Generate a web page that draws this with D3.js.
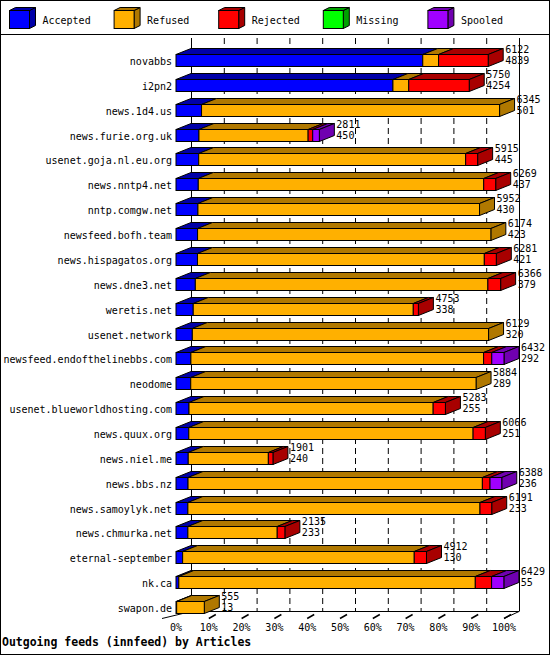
<!DOCTYPE html><html><head><meta charset="utf-8">
<script src="https://cdn.jsdelivr.net/npm/d3@7"></script>
<style>body{margin:0;background:#fff}text{font-family:"DejaVu Sans Mono",monospace;font-size:10px}</style></head>
<body><svg id="c" width="550" height="655"></svg>
<script>
const hosts=["novabbs","i2pn2","news.1d4.us","news.furie.org.uk","usenet.goja.nl.eu.org","news.nntp4.net","nntp.comgw.net","newsfeed.bofh.team","news.hispagatos.org","news.dne3.net","weretis.net","usenet.network","newsfeed.endofthelinebbs.com","neodome","usenet.blueworldhosting.com","news.quux.org","news.niel.me","news.bbs.nz","news.samoylyk.net","news.chmurka.net","eternal-september","nk.ca","swapon.de"];
const offered=[6122,5750,6345,2811,5915,6269,5952,6174,6281,6366,4753,6129,6432,5884,5283,6066,1901,6388,6191,2135,4912,6429,555];
const accepted=[4839,4254,501,450,445,437,430,423,421,379,338,320,292,289,255,251,240,236,233,233,130,55,13];
const refused=[310,310,5844,2141,5235,5597,5522,5751,5625,5737,4315,5809,5740,5595,4788,5575,1571,5772,5728,1752,4542,5814,542];
const rejected=[973,1186,0,90,235,235,0,0,235,250,100,0,160,0,240,240,90,150,230,150,240,320,0];
const missing=[0,0,0,0,0,0,0,0,0,0,0,0,0,0,0,0,0,0,0,0,0,0,0];
const spooled=[0,0,0,130,0,0,0,0,0,0,0,0,240,0,0,0,0,230,0,0,0,240,0];
const seriesNames=["Accepted","Refused","Rejected","Missing","Spooled"];
const front=["#0000ff","#ffb000","#ff0000","#00ff00","#a000ff"];
const side=["#0000a8","#b07800","#a80000","#00a000","#7000b0"];
const tickLabels=["0%","10%","20%","30%","40%","50%","60%","70%","80%","90%","100%"];

const svg=d3.select("#c");
const DX=15,DY=6,BH=12;
const max=d3.max(offered);
const x=d3.scaleLinear().domain([0,max]).range([176,504]);
const xp=d3.scaleLinear().domain([0,100]).range([176,504]);
const y=d3.scaleBand().domain(hosts).range([48,620]).paddingInner(0.48).paddingOuter(0.24);

svg.append("rect").attr("x",0.5).attr("y",0.5).attr("width",549).attr("height",654).attr("fill","none").attr("stroke","#000");
svg.append("line").attr("x1",0).attr("x2",550).attr("y1",34.5).attr("y2",34.5).attr("stroke","#000");

const lg=svg.append("g");
seriesNames.forEach((n,i)=>{
  const lx=9.5+i*104.6,ly=10.5,w=20,h=18,d=6;
  lg.append("path").attr("d",`M${lx+w},${ly}l${d},-${d/2}v${h}l-${d},${d/2}z`).attr("fill",side[i]).attr("stroke","#000");
  lg.append("path").attr("d",`M${lx},${ly}l${d},-${d/2}h${w}l-${d},${d/2}z`).attr("fill",side[i]).attr("stroke","#000");
  lg.append("rect").attr("x",lx).attr("y",ly).attr("width",w).attr("height",h).attr("fill",front[i]).attr("stroke","#000");
  lg.append("text").attr("x",lx+33).attr("y",ly+13).text(n);
});

const floorY=617.5;
const g=svg.append("g");
d3.range(1,10).forEach(i=>{
  g.append("line").attr("x1",xp(i*10)+DX+.5).attr("x2",xp(i*10)+DX+.5).attr("y1",38).attr("y2",floorY-DY).attr("stroke","#000").attr("stroke-dasharray","6,4");
});
[0,100].forEach(v=>g.append("line").attr("x1",xp(v)+DX+.5).attr("x2",xp(v)+DX+.5).attr("y1",38).attr("y2",floorY-DY).attr("stroke","#000"));
g.append("line").attr("x1",xp(0)+DX).attr("x2",xp(100)+DX).attr("y1",floorY-DY).attr("y2",floorY-DY).attr("stroke","#000");
g.append("line").attr("x1",xp(0)-14).attr("y1",floorY+1).attr("x2",xp(0)+DX).attr("y2",floorY-DY).attr("stroke","#000");
g.append("line").attr("x1",xp(100)).attr("y1",floorY+1).attr("x2",xp(100)+DX).attr("y2",floorY-DY).attr("stroke","#000");
tickLabels.forEach((t,i)=>{
  const tx=xp(i*10);
  if(i>0) g.append("line").attr("x1",tx).attr("y1",floorY+1).attr("x2",tx+7).attr("y2",floorY-3).attr("stroke","#000").attr("stroke-width",1.5);
  g.append("text").attr("x",tx).attr("y",631).attr("text-anchor","middle").text(t);
});
svg.append("text").attr("x",2).attr("y",646).attr("font-weight","bold").style("font-size","11.5px").text("Outgoing feeds (innfeed) by Articles");

const series=[accepted,refused,rejected,missing,spooled];
hosts.forEach((h,r)=>{
  const by=Math.round(y(h))+.5;
  const bg=svg.append("g");
  let acc=0;const segs=[];
  series.forEach((s,k)=>{if(s[r]>0){segs.push({k,a:acc,b:acc+s[r]});acc+=s[r];}});
  segs.forEach(sg=>{
    const x0=x(sg.a),x1=x(sg.b);
    bg.append("path").attr("d",`M${x0},${by}l${DX},-${DY}H${x1+DX}l-${DX},${DY}z`).attr("fill",side[sg.k]).attr("stroke","#000");
  });
  const last=segs[segs.length-1];
  bg.append("path").attr("d",`M${x(last.b)},${by}l${DX},-${DY}v${BH}l-${DX},${DY}z`).attr("fill",side[last.k]).attr("stroke","#000");
  segs.forEach(sg=>{
    bg.append("rect").attr("x",x(sg.a)).attr("y",by).attr("width",x(sg.b)-x(sg.a)).attr("height",BH).attr("fill",front[sg.k]).attr("stroke","#000");
  });
  svg.append("text").attr("x",172).attr("y",by+BH/2+4).attr("text-anchor","end").text(h);
  const lx=x(offered[r])+DX+2;
  svg.append("text").attr("x",lx).attr("y",by-2).text(offered[r]);
  svg.append("text").attr("x",lx).attr("y",by+9).text(accepted[r]);
});
</script></body></html>
